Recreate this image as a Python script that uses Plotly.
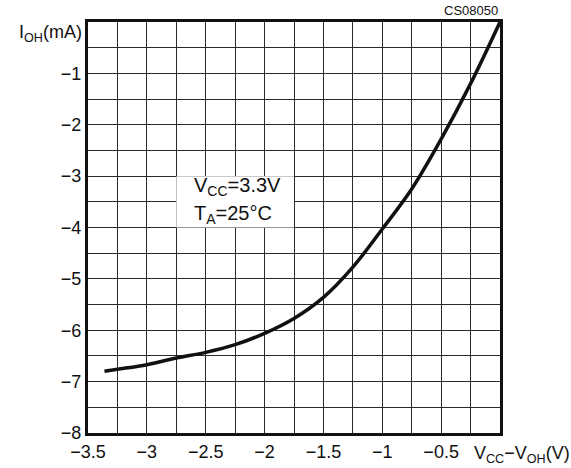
import plotly.graph_objects as go

# Curve data: V_CC - V_OH (V) vs I_OH (mA)
vdiff = [-3.36, -3.25, -3.0, -2.75, -2.5, -2.25, -2.0, -1.75, -1.5, -1.25, -1.0, -0.75, -0.5, -0.25, 0.0]
ioh = [-6.80, -6.76, -6.67, -6.54, -6.43, -6.28, -6.06, -5.77, -5.36, -4.77, -4.03, -3.25, -2.28, -1.20, 0.0]

x_grid = [-3.5 + 0.25 * i for i in range(15)]
x_labels = ["−3.5", "", "−3", "", "−2.5", "", "−2", "", "−1.5", "", "−1", "", "−0.5", "", ""]
y_grid = [-8 + 0.5 * i for i in range(17)]
y_labels = ["−8", "", "−7", "", "−6", "", "−5", "", "−4", "", "−3", "", "−2", "", "−1", "", ""]

FONT = "Liberation Sans, Arial, sans-serif"

fig = go.Figure()
fig.add_trace(go.Scatter(x=vdiff, y=ioh, mode="lines",
                         line=dict(color="#111111", width=3.5, shape="spline", smoothing=1.0),
                         showlegend=False, hoverinfo="skip"))

fig.update_layout(
    width=571, height=468,
    margin=dict(l=88, r=71, t=22, b=35),
    paper_bgcolor="white", plot_bgcolor="white",
    font=dict(family=FONT, size=18, color="#111111"),
    xaxis=dict(range=[-3.5, 0], tickmode="array", tickvals=x_grid, ticktext=x_labels,
               showgrid=True, gridcolor="#2a2a2a", gridwidth=1,
               showline=True, linecolor="#111111", linewidth=3, mirror=True,
               ticks="", zeroline=False, fixedrange=True, automargin=False),
    yaxis=dict(range=[-8, 0], tickmode="array", tickvals=y_grid, ticktext=y_labels,
               showgrid=True, gridcolor="#2a2a2a", gridwidth=1,
               showline=True, linecolor="#111111", linewidth=3, mirror=True,
               ticks="", zeroline=False, fixedrange=True, automargin=False),
)

# white box behind the condition text
fig.add_shape(type="rect", xref="x", yref="y", x0=-2.75, x1=-1.75, y0=-4, y1=-3,
              fillcolor="white", line=dict(width=0), layer="above")

fig.add_annotation(xref="x", yref="y", x=-2.62, y=-3.21, xanchor="left", yanchor="middle",
                   text="V<sub>CC</sub>=3.3V", showarrow=False, font=dict(size=20))
fig.add_annotation(xref="x", yref="y", x=-2.62, y=-3.74, xanchor="left", yanchor="middle",
                   text="T<sub>A</sub>=25°C", showarrow=False, font=dict(size=20))

# axis titles
fig.add_annotation(xref="paper", yref="paper", x=0, y=1, xanchor="right", yanchor="top",
                   xshift=-4, yshift=2,
                   text="I<sub>OH</sub>(mA)", showarrow=False, font=dict(size=18))
fig.add_annotation(xref="paper", yref="paper", x=1, y=0, xanchor="left", yanchor="top",
                   xshift=-28, yshift=-8,
                   text="V<sub>CC</sub>−V<sub>OH</sub>(V)", showarrow=False, font=dict(size=18))
fig.add_annotation(xref="paper", yref="paper", x=1, y=1, xanchor="right", yanchor="bottom",
                   yshift=2,
                   text="CS08050", showarrow=False, font=dict(size=13))

fig.write_html("out.html", config={"displayModeBar": False},
               post_script="document.body.style.margin='0';document.body.style.padding='0';")
